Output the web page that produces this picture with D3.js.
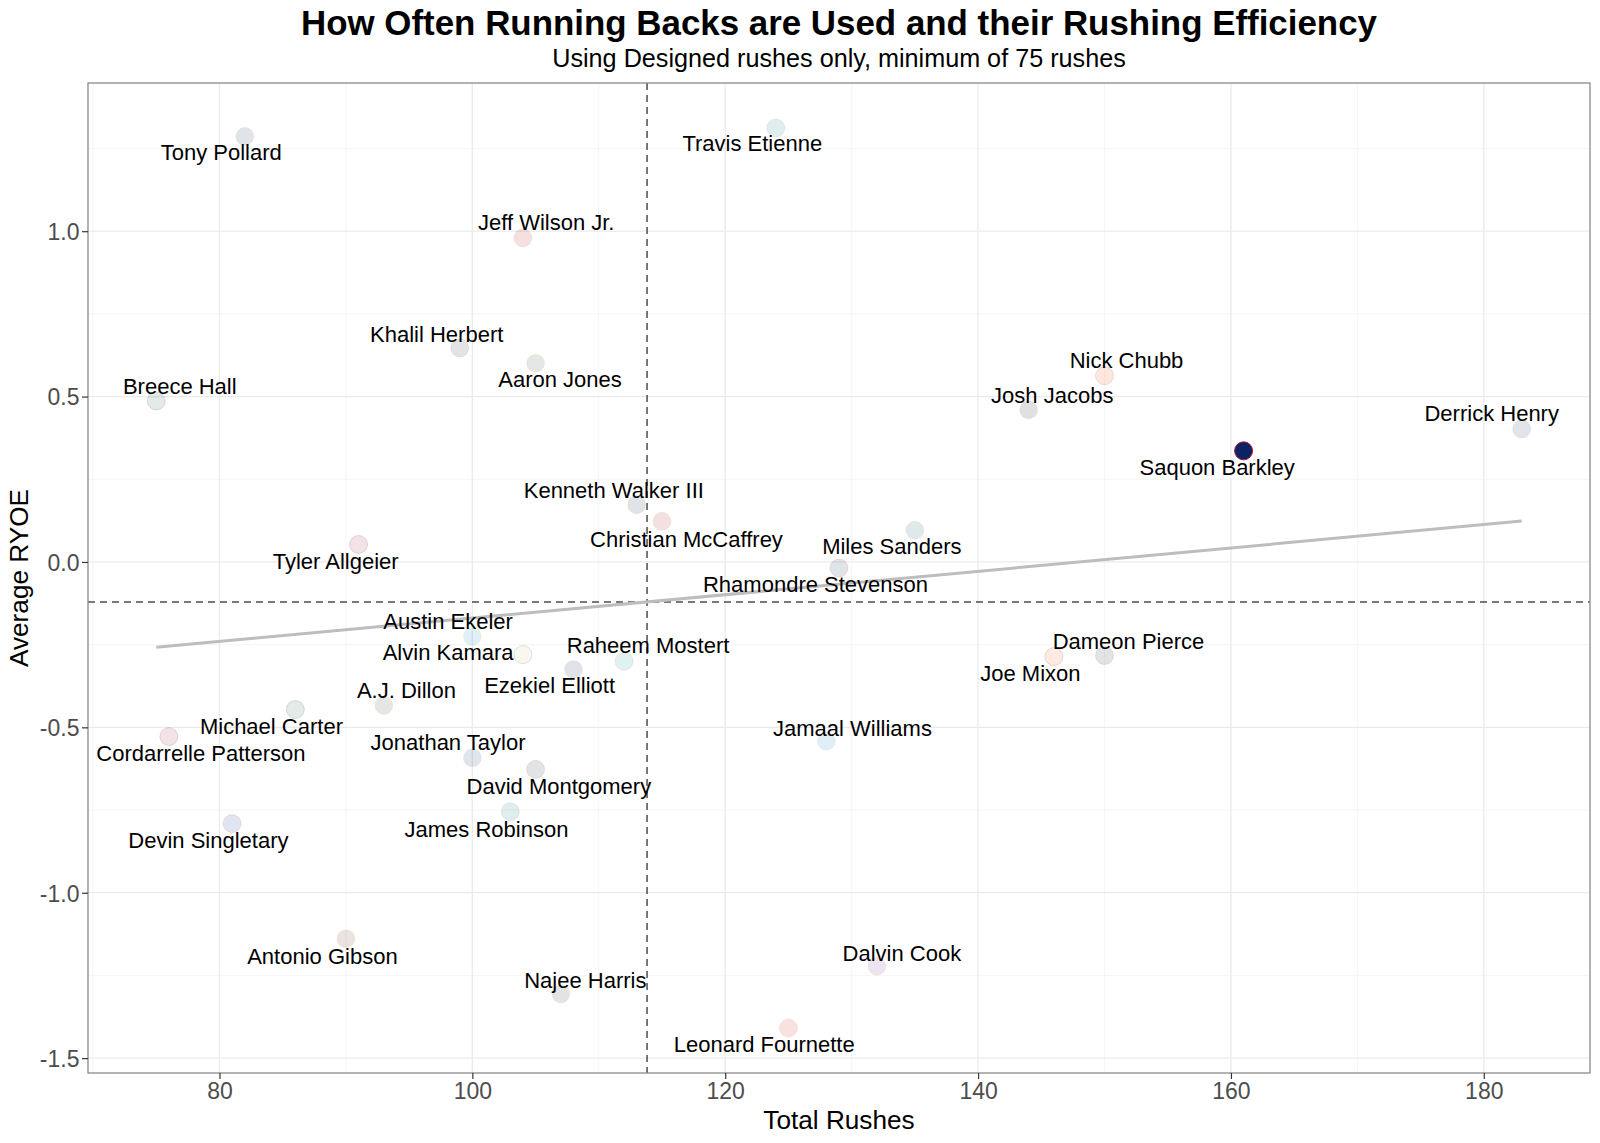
<!DOCTYPE html>
<html>
<head>
<meta charset="utf-8">
<script src="https://cdn.jsdelivr.net/npm/d3@7"></script>
<style>
  html, body { margin: 0; padding: 0; background: #fff; }
  svg { display: block; }
  text { font-family: "Liberation Sans", Arial, Helvetica, sans-serif; }
</style>
</head>
<body>
<script>
// ---------------- data ----------------
const players = [
  "Tony Pollard", "Travis Etienne", "Jeff Wilson Jr.", "Breece Hall", "Khalil Herbert",
  "Aaron Jones", "Nick Chubb", "Josh Jacobs", "Derrick Henry", "Saquon Barkley",
  "Kenneth Walker III", "Christian McCaffrey", "Miles Sanders", "Tyler Allgeier", "Rhamondre Stevenson",
  "Austin Ekeler", "Alvin Kamara", "Ezekiel Elliott", "Raheem Mostert", "A.J. Dillon",
  "Michael Carter", "Cordarrelle Patterson", "Jonathan Taylor", "David Montgomery", "James Robinson",
  "Devin Singletary", "Dameon Pierce", "Joe Mixon", "Jamaal Williams", "Antonio Gibson",
  "Dalvin Cook", "Najee Harris", "Leonard Fournette"
];
const teams = [
  "DAL", "JAX", "SF", "NYJ", "CHI",
  "GB", "CLE", "LV", "TEN", "NYG",
  "SEA", "SF", "PHI", "ATL", "NE",
  "LAC", "NO", "DAL", "MIA", "GB",
  "NYJ", "ATL", "IND", "CHI", "JAX",
  "BUF", "HOU", "CIN", "DET", "WAS",
  "MIN", "PIT", "TB"
];
const totalRushes = [
  82, 124, 104, 75, 99,
  105, 150, 144, 183, 161,
  113, 115, 135, 91, 129,
  100, 104, 108, 112, 93,
  86, 76, 100, 105, 103,
  81, 150, 146, 128, 90,
  132, 107, 125
];
const avgRYOE = [
  1.287, 1.312, 0.980, 0.487, 0.647,
  0.601, 0.563, 0.460, 0.402, 0.336,
  0.173, 0.123, 0.096, 0.053, -0.018,
  -0.225, -0.280, -0.325, -0.300, -0.434,
  -0.446, -0.528, -0.592, -0.627, -0.755,
  -0.791, -0.283, -0.286, -0.542, -1.139,
  -1.222, -1.306, -1.409
];
// label placement (repelled offsets from each point, pixels)
const labelDx = [
  -23.5, -23.5, 23.3, 23.5, -23,
  24.5, 22, 23.6, -30, -26.4,
  -22.9, 24.5, -23, -22.9, -23.5,
  -24.3, -74.8, -23.9, 24, 22.6,
  -23.9, 32, -24.3, 23.3, -23.8,
  -23.7, 24, -23.5, 26.1, -23.5,
  25, 24.5, -24.2
];
const labelDy = [
  16.3, 15.3, -16, -14.3, -14.3,
  16.3, -15.5, -15.1, -15.7, 16.3,
  -14.3, 17.4, 16.3, 16.3, 16.3,
  -15.3, -2, 15.7, -15.7, -15.2,
  16.5, 16.7, -15.4, 16.7, 17.3,
  16.4, -14.3, 16.4, -13.2, 17.3,
  -13.2, -14.3, 16
];
const highlightPlayer = "Saquon Barkley";

const xTicks = [80, 100, 120, 140, 160, 180];
const xTickLabels = ["80", "100", "120", "140", "160", "180"];
const yTicks = [-1.5, -1.0, -0.5, 0.0, 0.5, 1.0];
const yTickLabels = ["-1.5", "-1.0", "-0.5", "0.0", "0.5", "1.0"];

const titleText = "How Often Running Backs are Used and their Rushing Efficiency";
const subtitleText = "Using Designed rushes only, minimum of 75 rushes";
const xTitle = "Total Rushes";
const yTitle = "Average RYOE";

// team colours (primary, secondary)
const teamColors = {
  ATL: ["#A71930", "#000000"], BUF: ["#00338D", "#C60C30"], CHI: ["#0B162A", "#C83803"],
  CIN: ["#FB4F14", "#000000"], CLE: ["#FF3C00", "#311D00"], DAL: ["#002244", "#B0B7BC"],
  DET: ["#0076B6", "#B0B7BC"], GB: ["#203731", "#FFB612"], HOU: ["#03202F", "#A71930"],
  IND: ["#002C5F", "#A2AAAD"], JAX: ["#006778", "#9F792C"], LAC: ["#0080C6", "#FFC20E"],
  LV: ["#000000", "#A5ACAF"], MIA: ["#008E97", "#FC4C02"], MIN: ["#4F2683", "#FFC62F"],
  NE: ["#002244", "#C60C30"], NO: ["#D3BC8D", "#101820"], NYG: ["#0B2265", "#A71930"],
  NYJ: ["#125740", "#000000"], PHI: ["#004C54", "#A5ACAF"], PIT: ["#101820", "#FFB612"],
  SEA: ["#002244", "#69BE28"], SF: ["#AA0000", "#B3995D"], TB: ["#D50A0A", "#FF7900"],
  TEN: ["#0C2340", "#4B92DB"], WAS: ["#5A1414", "#FFB612"]
};

// ---------------- layout ----------------
const W = 1600, H = 1143;
const panel = { left: 88, right: 1590, top: 83, bottom: 1073 };

const data = players.map((p, i) => ({
  name: p, team: teams[i], x: totalRushes[i], y: avgRYOE[i], dx: labelDx[i], dy: labelDy[i]
}));

function expand(ext, f) { const r = ext[1] - ext[0]; return [ext[0] - r * f, ext[1] + r * f]; }

const x = d3.scaleLinear().domain(expand(d3.extent(totalRushes), 0.05)).range([panel.left, panel.right]);
const y = d3.scaleLinear().domain(expand(d3.extent(avgRYOE), 0.05)).range([panel.bottom, panel.top]);

const svg = d3.select("body").append("svg").attr("width", W).attr("height", H);

// panel background
svg.append("rect").attr("x", panel.left).attr("y", panel.top)
  .attr("width", panel.right - panel.left).attr("height", panel.bottom - panel.top)
  .attr("fill", "#fff");

const grid = svg.append("g");
// minor grid
const xMinor = xTicks.map(t => t - 10).concat([xTicks[xTicks.length - 1] + 10]).filter(v => x(v) > panel.left && x(v) < panel.right);
const yMinor = yTicks.map(t => t - 0.25).concat([yTicks[yTicks.length - 1] + 0.25]).filter(v => y(v) > panel.top && y(v) < panel.bottom);
grid.selectAll(".xmin").data(xMinor).join("line")
  .attr("x1", d => x(d)).attr("x2", d => x(d)).attr("y1", panel.top).attr("y2", panel.bottom)
  .attr("stroke", "#F3F3F3").attr("stroke-width", 0.8);
grid.selectAll(".ymin").data(yMinor).join("line")
  .attr("y1", d => y(d)).attr("y2", d => y(d)).attr("x1", panel.left).attr("x2", panel.right)
  .attr("stroke", "#F3F3F3").attr("stroke-width", 0.8);
grid.selectAll(".xmaj").data(xTicks).join("line")
  .attr("x1", d => x(d)).attr("x2", d => x(d)).attr("y1", panel.top).attr("y2", panel.bottom)
  .attr("stroke", "#EBEBEB").attr("stroke-width", 1.3);
grid.selectAll(".ymaj").data(yTicks).join("line")
  .attr("y1", d => y(d)).attr("y2", d => y(d)).attr("x1", panel.left).attr("x2", panel.right)
  .attr("stroke", "#EBEBEB").attr("stroke-width", 1.3);

// reference lines at means
const meanX = d3.mean(totalRushes), meanY = d3.mean(avgRYOE);
svg.append("line").attr("x1", x(meanX)).attr("x2", x(meanX)).attr("y1", panel.top).attr("y2", panel.bottom)
  .attr("stroke", "#4D4D4D").attr("stroke-width", 1.5).attr("stroke-dasharray", "7,5");
svg.append("line").attr("y1", y(meanY)).attr("y2", y(meanY)).attr("x1", panel.left).attr("x2", panel.right)
  .attr("stroke", "#4D4D4D").attr("stroke-width", 1.5).attr("stroke-dasharray", "7,5");

// linear regression
let sxy = 0, sxx = 0;
data.forEach(d => { sxy += (d.x - meanX) * (d.y - meanY); sxx += (d.x - meanX) ** 2; });
const slope = sxy / sxx, intercept = meanY - slope * meanX;
const xr = d3.extent(totalRushes);
svg.append("line")
  .attr("x1", x(xr[0])).attr("y1", y(intercept + slope * xr[0]))
  .attr("x2", x(xr[1])).attr("y2", y(intercept + slope * xr[1]))
  .attr("stroke", "#BDBDBD").attr("stroke-width", 3);

// points
svg.append("g").selectAll("circle").data(data).join("circle")
  .attr("cx", d => x(d.x)).attr("cy", d => y(d.y)).attr("r", 9)
  .attr("fill", d => teamColors[d.team][0])
  .attr("stroke", d => teamColors[d.team][1])
  .attr("stroke-width", 1)
  .attr("fill-opacity", d => d.name === highlightPlayer ? 1 : 0.12)
  .attr("stroke-opacity", d => d.name === highlightPlayer ? 1 : 0.12);

// labels
svg.append("g").selectAll("text").data(data).join("text")
  .attr("x", d => x(d.x) + d.dx)
  .attr("y", d => y(d.y) + d.dy + 7.9)
  .attr("text-anchor", "middle")
  .attr("font-size", 22).attr("fill", "#000")
  .text(d => d.name);

// panel border
svg.append("rect").attr("x", panel.left).attr("y", panel.top)
  .attr("width", panel.right - panel.left).attr("height", panel.bottom - panel.top)
  .attr("fill", "none").attr("stroke", "#8A8A8A").attr("stroke-width", 1.3);

// axes
const xAxis = d3.axisBottom(x).tickValues(xTicks).tickFormat((d, i) => xTickLabels[i]).tickSize(6).tickPadding(4);
const gx = svg.append("g").attr("transform", `translate(0,${panel.bottom})`).call(xAxis);
gx.select(".domain").remove();
gx.selectAll(".tick line").attr("stroke", "#333333").attr("stroke-width", 1.2);
gx.selectAll(".tick text").attr("font-size", 23).attr("fill", "#4D4D4D")
  .attr("font-family", "'Liberation Sans', Arial, sans-serif").attr("dy", "0.71em").attr("y", 10);

const yAxis = d3.axisLeft(y).tickValues(yTicks).tickFormat((d, i) => yTickLabels[i]).tickSize(6).tickPadding(3);
const gy = svg.append("g").attr("transform", `translate(${panel.left},0)`).call(yAxis);
gy.select(".domain").remove();
gy.selectAll(".tick line").attr("stroke", "#333333").attr("stroke-width", 1.2);
gy.selectAll(".tick text").attr("font-size", 23).attr("fill", "#4D4D4D")
  .attr("font-family", "'Liberation Sans', Arial, sans-serif").attr("dy", "0.36em").attr("x", -8.5);

// titles
const cx = (panel.left + panel.right) / 2;
svg.append("text").attr("x", cx).attr("y", 34.7).attr("text-anchor", "middle")
  .attr("font-size", 34.9).attr("font-weight", "bold").attr("fill", "#000").text(titleText);
svg.append("text").attr("x", cx).attr("y", 67.3).attr("text-anchor", "middle")
  .attr("font-size", 25.2).attr("fill", "#000").text(subtitleText);
svg.append("text").attr("x", cx).attr("y", 1128.6).attr("text-anchor", "middle")
  .attr("font-size", 26.2).attr("fill", "#000").text(xTitle);
svg.append("text").attr("transform", `translate(28,${(panel.top + panel.bottom) / 2}) rotate(-90)`)
  .attr("text-anchor", "middle").attr("font-size", 26.2).attr("fill", "#000").text(yTitle);
</script>
</body>
</html>
